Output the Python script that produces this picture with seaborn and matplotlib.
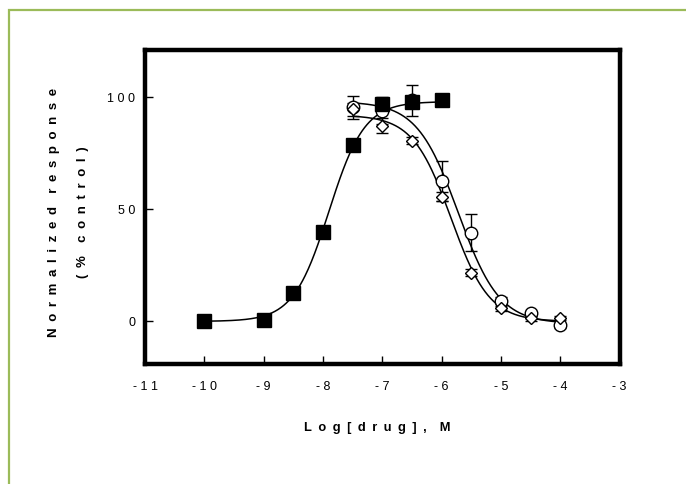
import numpy as np
import seaborn as sns
import matplotlib.pyplot as plt
from matplotlib.patches import Rectangle

# data
log_dose_sq = [-10, -9, -8.5, -8, -7.5, -7, -6.5, -6]
resp_sq = [0, 0.5, 12.8, 39.8, 78.8, 96.9, 97.6, 98.7]

log_dose_open = [-7.5, -7, -6.5, -6, -5.5, -5, -4.5, -4]
resp_circle = [95.4, 94.0, 98.5, 62.5, 39.5, 9.3, 3.7, -1.8]
err_circle = [5.0, 6.0, 7.0, 9.0, 8.2, 1.5, 1.0, 1.0]
resp_diamond = [94.5, 87.3, 80.6, 55.6, 21.8, 5.8, 1.3, 1.5]
err_diamond = [3.0, 3.5, 1.5, 2.0, 1.5, 1.0, 1.0, 1.0]

# fitted curves: bottom, top, logEC50, hill slope, x range
fit_sq = [0, 98, -7.9, 1.45, -10, -6]
fit_circle = [-1, 98, -5.72, -1.25, -7.5, -4]
fit_diamond = [0, 92, -5.84, -1.35, -7.5, -4]

x_ticks = [-11, -10, -9, -8, -7, -6, -5, -4, -3]
y_ticks = [0, 50, 100]


def spread(text, gap=' '):
    return gap.join(text)


def hill(params):
    bottom, top, ec50, slope, x0, x1 = params
    x = np.linspace(x0, x1, 300)
    y = bottom + (top - bottom) / (1 + 10 ** (slope * (ec50 - x)))
    return x, y


sns.set_theme(style='white')
plt.rcParams['font.family'] = ['Liberation Sans', 'DejaVu Sans']

fig = plt.figure(figsize=(6.86, 4.84), dpi=100)
ax = fig.add_axes([0.2114, 0.2479, 0.6917, 0.6488])

for params in [fit_sq, fit_circle, fit_diamond]:
    xs, ys = hill(params)
    sns.lineplot(x=xs, y=ys, ax=ax, color='black', lw=1.1, zorder=2)

ax.errorbar(log_dose_open, resp_circle, yerr=err_circle, fmt='none',
            ecolor='black', elinewidth=1, capsize=4.3, capthick=1, zorder=3)
ax.errorbar(log_dose_open, resp_diamond, yerr=err_diamond, fmt='none',
            ecolor='black', elinewidth=1, capsize=4.3, capthick=1, zorder=3)
ax.plot(log_dose_open, resp_circle, 'o', ms=9, mfc='white', mec='black',
        mew=1, zorder=4)
ax.plot(log_dose_open, resp_diamond, 'D', ms=5.8, mfc='white', mec='black',
        mew=1, zorder=5)
ax.plot(log_dose_sq, resp_sq, 's', ms=9.5, mfc='black', mec='black',
        mew=1, zorder=6)

ax.set_xlim(-11, -3)
ax.set_ylim(-19, 121)
ax.set_xticks(x_ticks)
ax.set_xticklabels([spread(str(t)) for t in x_ticks])
ax.set_yticks(y_ticks)
ax.set_yticklabels([spread(str(t)) for t in y_ticks])
ax.tick_params(axis='both', direction='in', length=6, width=1, color='black',
               labelsize=9, labelcolor='black')
ax.tick_params(axis='x', pad=12, bottom=True)
ax.tick_params(axis='y', pad=7, left=True)

for sp in ax.spines.values():
    sp.set_linewidth(3.2)
    sp.set_color('black')

en = '\u2002'
ax.set_xlabel(spread('Log[drug],', en) + en * 2 + 'M', fontsize=9.3,
              fontweight='bold', color='black')
ax.xaxis.set_label_coords(0.49, -0.185)
ax.set_ylabel(spread('Normalized', en) + en * 2 + spread('response', en)
              + '\n' + spread('(%', en) + en * 2 + spread('control)', en),
              fontsize=9.5, fontweight='bold', color='black', linespacing=2.85)
ax.yaxis.set_label_coords(-0.118, 0.484)

fig.patches.append(Rectangle((8.5 / 686, -0.1), 1.2, 1.1 - 10.5 / 484,
                             transform=fig.transFigure, fill=False,
                             edgecolor='#9BBB59', lw=1.6))

fig.savefig('out.png', dpi=100)
